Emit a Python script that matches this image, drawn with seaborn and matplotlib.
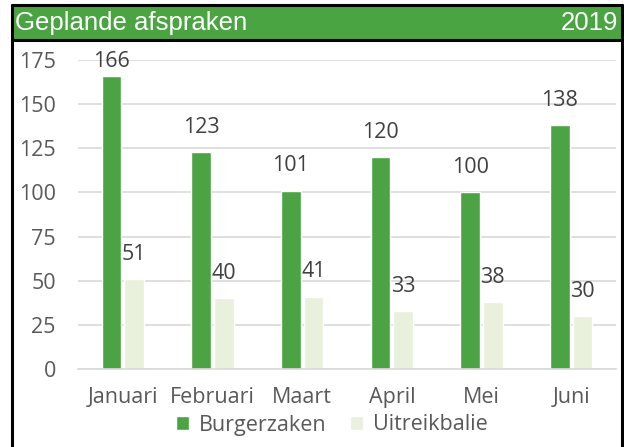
import matplotlib
matplotlib.use("Agg")
import matplotlib.pyplot as plt
import seaborn as sns
import pandas as pd
from matplotlib.patches import Rectangle

# data
maanden = ['Januari', 'Februari', 'Maart', 'April', 'Mei', 'Juni']
burgerzaken = [166, 123, 101, 120, 100, 138]
uitreikbalie = [51, 40, 41, 33, 38, 30]
reeksen = ['Burgerzaken', 'Uitreikbalie']
titel = 'Geplande afspraken'
jaar = '2019'

donkergroen = '#4ca344'
lichtgroen = '#e9f1dc'
kopgroen = '#4aa442'
tekstgrijs = '#595959'

df = pd.DataFrame({
    'maand': maanden * 2,
    'aantal': burgerzaken + uitreikbalie,
    'reeks': [reeksen[0]] * len(maanden) + [reeksen[1]] * len(maanden),
})

sns.set_style('white')
plt.rcParams['font.family'] = ['Open Sans', 'DejaVu Sans']
fs = 15.5

W, H = 624, 447
fig = plt.figure(figsize=(W / 100, H / 100), dpi=100)
ax = fig.add_axes([78 / W, 1 - 369 / H, (616 - 78) / W, (369 - 60) / H])

sns.barplot(data=df, x='maand', y='aantal', hue='reeks', palette=[donkergroen, lichtgroen],
            width=0.5, gap=0.12, ax=ax, saturation=1, errorbar=None)

ax.set_ylim(0, 175)
ax.set_yticks(range(0, 176, 25))
ax.yaxis.grid(True, color='#d9d9d9', linewidth=1.2)
ax.set_axisbelow(True)
for s in ['left', 'right', 'top']:
    ax.spines[s].set_visible(False)
ax.spines['bottom'].set_color('#d9d9d9')
ax.spines['bottom'].set_linewidth(1.2)
ax.set_xlabel('')
ax.set_ylabel('')
ax.tick_params(axis='y', length=0, pad=16, labelsize=fs, labelcolor=tekstgrijs)
ax.tick_params(axis='x', length=0, pad=13, labelsize=fs, labelcolor=tekstgrijs)

# data labels above the bars (kept inside the plot area like Excel does)
for cont in ax.containers:
    for bar in cont:
        h = bar.get_height()
        y = min(h + 14, 174.3)
        ax.text(bar.get_x() + bar.get_width() / 2, y, f'{h:.0f}', ha='center', va='center',
                fontsize=fs, color='#404040')

# legend at the bottom
handles, labels = ax.get_legend_handles_labels()
ax.get_legend().remove()
fig.legend(handles, labels, loc='center', bbox_to_anchor=(332 / W, 1 - 425 / H), ncol=2,
           frameon=False, fontsize=fs, handlelength=0.6, handleheight=0.6,
           handletextpad=0.45, columnspacing=1.1, labelcolor=tekstgrijs)

# header bar and frame
fig.patches.append(Rectangle((13 / W, 1 - 39 / H), (621 - 13) / W, 33 / H,
                             transform=fig.transFigure, facecolor=kopgroen, edgecolor='none', zorder=0))
lijn = dict(color='black', linewidth=2.2, transform=fig.transFigure)
fig.add_artist(plt.Line2D([12 / W, 12 / W], [0, 1 - 5 / H], **lijn))
fig.add_artist(plt.Line2D([622 / W, 622 / W], [0, 1 - 5 / H], **lijn))
fig.add_artist(plt.Line2D([12 / W, 622 / W], [1 - 5 / H, 1 - 5 / H], **lijn))
fig.add_artist(plt.Line2D([12 / W, 622 / W], [1 - 40 / H, 1 - 40 / H], **lijn))

fig.text(15 / W, 1 - 23 / H, titel, color='white', fontsize=18.5, va='center', ha='left',
         family='Liberation Sans')
fig.text(618 / W, 1 - 23 / H, jaar, color='white', fontsize=18.5, va='center', ha='right',
         family='Liberation Sans')

fig.savefig('out.png', dpi=100)
